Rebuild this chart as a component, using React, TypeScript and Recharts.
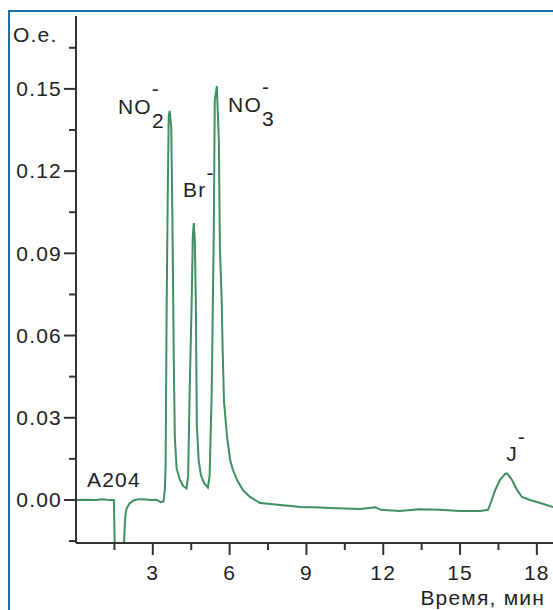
import { LineChart, Line, XAxis, YAxis, ReferenceDot } from "recharts";

// retention time, min
const time = [
  0, 0.4, 0.8, 1.0, 1.2, 1.48, 1.52, 1.86, 1.9, 1.93, 1.98, 2.1, 2.25, 2.45, 2.7, 2.95, 3.15, 3.3, 3.42,
  3.47, 3.5, 3.54, 3.58, 3.62, 3.66, 3.72, 3.77, 3.82, 3.86, 3.93, 4.05, 4.18, 4.32,
  4.38, 4.44, 4.52, 4.56, 4.6, 4.64, 4.68, 4.72, 4.79, 4.88, 5.0, 5.15,
  5.22, 5.3, 5.38, 5.42, 5.5, 5.58, 5.62, 5.69, 5.73, 5.78, 5.9, 6.02, 6.13, 6.29, 6.52, 6.8,
  7.19, 7.6, 7.97, 8.4, 8.75, 9.3, 9.92, 10.5, 11.1, 11.7, 11.9, 12.65, 13.4, 14.2, 15.0, 15.8,
  16.09, 16.17, 16.37, 16.56, 16.76, 16.84, 17.03, 17.23, 17.42, 17.73, 18.13, 18.63,
];

// detector signal, o.e.
const signal = [
  0, 0.0001, 0, 0.0003, 0.0001, 0, -0.02, -0.02, -0.01, -0.0055, -0.003, -0.0012, -0.0002, 0.0003, 0.0002, 0, 0.0001, -0.0008, -0.0005,
  0.004, 0.012, 0.07, 0.108, 0.14, 0.142, 0.136, 0.099, 0.05, 0.023, 0.0115, 0.0075, 0.0052, 0.0042,
  0.009, 0.04, 0.073, 0.096, 0.101, 0.095, 0.073, 0.027, 0.0146, 0.009, 0.0062, 0.0045,
  0.009, 0.039, 0.097, 0.146, 0.151, 0.131, 0.092, 0.073, 0.054, 0.036, 0.023, 0.0146, 0.011, 0.0073, 0.0036, 0.0011,
  -0.0011, -0.0015, -0.0018, -0.0022, -0.0026, -0.0027, -0.0029, -0.0031, -0.0033, -0.0027, -0.0036, -0.004, -0.0034, -0.0036, -0.004, -0.004,
  -0.0036, -0.0018, 0.0036, 0.0073, 0.0095, 0.0097, 0.0073, 0.0036, 0.0011, 0, -0.0011, -0.0026,
];

const xTicks = [1.5, 3, 4.5, 6, 7.5, 9, 10.5, 12, 13.5, 15, 16.5, 18];
const xLabeled = [3, 6, 9, 12, 15, 18];
const yTicks = [-0.015, 0, 0.015, 0.03, 0.045, 0.06, 0.075, 0.09, 0.105, 0.12, 0.135, 0.15, 0.165];
const yLabeled = [0, 0.03, 0.06, 0.09, 0.12, 0.15];

// peak annotations: ion, subscript, anchor (time, signal)
const peaks = [
  { ion: "NO", sub: "2", t: 1.64, v: 0.1409 },
  { ion: "Br", sub: "", t: 4.18, v: 0.1106 },
  { ion: "NO", sub: "3", t: 5.94, v: 0.1416 },
  { ion: "J", sub: "", t: 16.8, v: 0.0142 },
];
const sampleName = { text: "A204", t: 0.43, v: 0.0047 };

const rows = time.map((t, i) => ({ t, v: signal[i] }));

const FONT = "'Liberation Sans', Arial, sans-serif";
const INK = "#222";
const AXIS = "#333";
const GREEN = "#3f8f62";
const textStyle = { fontFamily: FONT, fontSize: 21, fill: INK, letterSpacing: 1.2 };

function XTick({ x, y, payload }: any) {
  const major = xLabeled.includes(payload.value);
  return (
    <g>
      <line x1={x} x2={x} y1={y} y2={y + (major ? 12 : 7)} stroke={AXIS} strokeWidth={2} />
      {major && (
        <text x={x} y={y + 37} textAnchor="middle" style={textStyle}>
          {payload.value}
        </text>
      )}
    </g>
  );
}

function YTick({ x, y, payload }: any) {
  const major = yLabeled.some((m) => Math.abs(m - payload.value) < 1e-9);
  return (
    <g>
      <line x1={x - (major ? 12 : 7)} x2={x} y1={y} y2={y} stroke={AXIS} strokeWidth={2} />
      {major && (
        <text x={x - 14} y={y} dy="0.35em" textAnchor="end" style={textStyle}>
          {payload.value.toFixed(2)}
        </text>
      )}
    </g>
  );
}

function IonLabel({ viewBox, ion, sub }: any) {
  const { x, y } = viewBox;
  return (
    <text x={x} y={y} style={textStyle}>
      <tspan>{ion}</tspan>
      {sub ? (
        <>
          <tspan dy={14}>{sub}</tspan>
          <tspan dx={-13} dy={-32}>-</tspan>
        </>
      ) : (
        <tspan dy={-17}>-</tspan>
      )}
    </text>
  );
}

export default function App() {
  return (
    <div style={{ position: "fixed", left: 0, top: 0, width: 553, height: 610, background: "#fff", overflow: "hidden" }}>
      <div
        style={{
          position: "absolute",
          left: 8,
          top: 10,
          width: 600,
          height: 700,
          border: "2px solid #1d6fa5",
          boxSizing: "border-box",
        }}
      />
      <div style={{ position: "absolute", left: 0, top: 0 }}>
        <LineChart width={553} height={610} data={rows} margin={{ top: 16, right: 0, bottom: 0, left: 0 }}>
          <XAxis
            xAxisId="top"
            orientation="top"
            dataKey="t"
            type="number"
            domain={[0, 18.63]}
            allowDataOverflow
            height={0}
            tick={false}
            tickLine={false}
            axisLine={{ stroke: AXIS, strokeWidth: 2 }}
          />
          <XAxis
            dataKey="t"
            type="number"
            domain={[0, 18.63]}
            allowDataOverflow
            ticks={xTicks}
            interval={0}
            height={67}
            tickSize={0}
            tickMargin={0}
            tickLine={false}
            tick={<XTick />}
            axisLine={{ stroke: AXIS, strokeWidth: 2 }}
            label={{
              content: ({ viewBox }: any) => (
                <text x={viewBox.x + viewBox.width - 8} y={viewBox.y + 62} textAnchor="end" style={textStyle}>
                  Время, мин
                </text>
              ),
            }}
          />
          <YAxis
            type="number"
            domain={[-0.0157, 0.1766]}
            allowDataOverflow
            ticks={yTicks}
            interval={0}
            width={76}
            tickSize={0}
            tickMargin={0}
            tickLine={false}
            tick={<YTick />}
            axisLine={{ stroke: AXIS, strokeWidth: 2 }}
            label={{
              content: ({ viewBox }: any) => (
                <text x={viewBox.x + 13} y={viewBox.y + 26} style={textStyle}>
                  O.e.
                </text>
              ),
            }}
          />
          <Line
            dataKey="v"
            type="linear"
            stroke={GREEN}
            strokeWidth={2}
            dot={false}
            activeDot={false}
            isAnimationActive={false}
          />
          {peaks.map((p) => (
            <ReferenceDot
              key={p.ion + p.sub}
              x={p.t}
              y={p.v}
              r={0}
              stroke="none"
              fill="none"
              label={(props: any) => <IonLabel {...props} ion={p.ion} sub={p.sub} />}
            />
          ))}
          <ReferenceDot
            x={sampleName.t}
            y={sampleName.v}
            r={0}
            stroke="none"
            fill="none"
            label={({ viewBox }: any) => (
              <text x={viewBox.x} y={viewBox.y} style={textStyle}>
                {sampleName.text}
              </text>
            )}
          />
        </LineChart>
      </div>
    </div>
  );
}
